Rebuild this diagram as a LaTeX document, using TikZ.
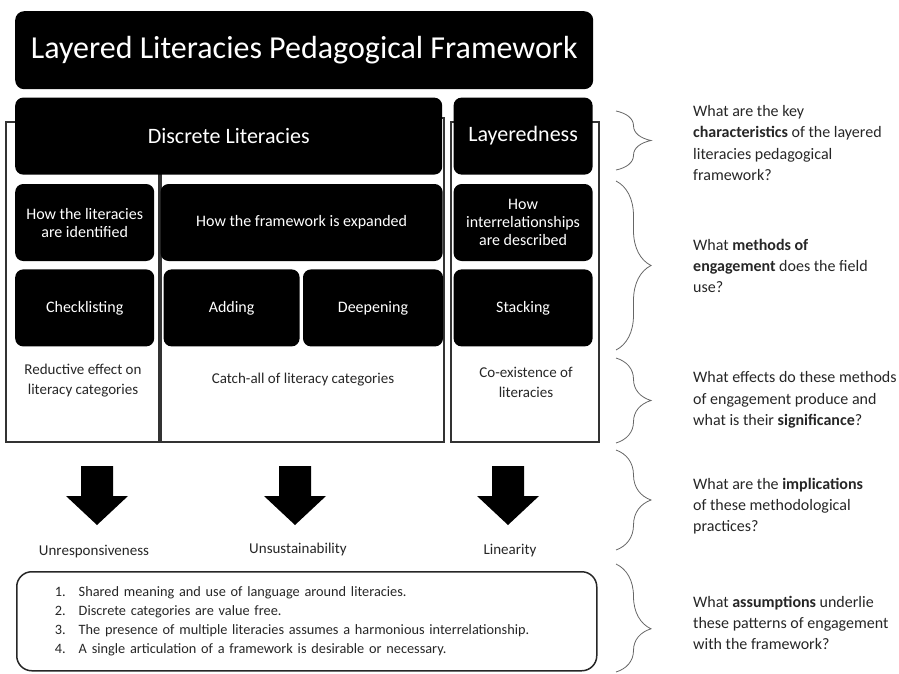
\documentclass[tikz,border=0pt]{standalone}
\usepackage{fontspec}
\setmainfont{Carlito}
\usetikzlibrary{positioning, decorations.pathreplacing}

\begin{document}
\begin{tikzpicture}[
    x=1pt, y=-1pt,
    dark_block/.style={rectangle, fill=black, text=white, rounded corners=8pt, inner sep=0pt, align=center, minimum height=77pt, font=\fontsize{16}{18}\selectfont},
    head_block/.style={dark_block, rounded corners=9pt, minimum height=78pt, font=\fontsize{32}{38}\selectfont},
    big_block/.style={dark_block, font=\fontsize{22}{26}\selectfont},
    col_frame/.style={draw=black!80, line width=1.5pt},
    effect_text/.style={align=center, text=black!85, font=\fontsize{15}{20}\selectfont},
    result_text/.style={text=black!85, font=\fontsize{15}{18}\selectfont},
    question_text/.style={anchor=west, align=left, inner sep=0pt, text=black!85, font=\fontsize{16}{21.3}\selectfont},
    q_brace/.style={decorate, decoration={brace, amplitude=35pt}, draw=black!60, line width=0.8pt},
    list_block/.style={rectangle, draw=black!85, line width=1.5pt, rounded corners=15pt, minimum width=580pt, minimum height=99pt, inner xsep=38pt, text width=504pt, align=left, text=black!85, font=\fontsize{14.3}{18.7}\selectfont}
]
    \useasboundingbox (0,0) rectangle (899,673);

    % Column frames
    \draw[col_frame] (6,122) rectangle (159,442);
    \draw[col_frame] (161,118) rectangle (444,442);
    \draw[col_frame] (451,122) rectangle (599,442);

    % Framework blocks
    \node[head_block, minimum width=578pt, anchor=north west] (title) at (15,11) {Layered Literacies Pedagogical Framework};
    \node[big_block, minimum width=427pt, below right=8pt and 0pt of title.south west] (discrete) {Discrete Literacies};
    \node[big_block, minimum width=139pt, right=11pt of discrete] (layered) {Layeredness};

    \node[dark_block, minimum width=139pt, below right=9pt and 0pt of discrete.south west] (identified) {How the literacies\\are identified};
    \node[dark_block, minimum width=282pt, right=6pt of identified] (expanded) {How the framework is expanded};
    \node[dark_block, minimum width=139pt, below=9pt of layered] (described) {How\\interrelationships\\are described};

    \node[dark_block, minimum width=139pt, below=8pt of identified] (checklist) {Checklisting};
    \node[dark_block, minimum width=136pt, right=9pt of checklist] (adding) {Adding};
    \node[dark_block, minimum width=140pt, right=3pt of adding] (deepening) {Deepening};
    \node[dark_block, minimum width=139pt, below=8pt of described] (stacking) {Stacking};

    % Effects
    \node[effect_text] (reductive) at (83,381) {Reductive effect on\\literacy categories};
    \node[effect_text] (catchall) at (303,380) {Catch-all of literacy categories};
    \node[effect_text] (coexist) at (526,382) {Co-existence of\\literacies};

    % Implications
    \foreach \ax in {97, 295, 508}
        \fill[black] (\ax-16,466) -- (\ax+16,466) -- (\ax+16,496) -- (\ax+31,496) -- (\ax,525) -- (\ax-31,496) -- (\ax-16,496) -- cycle;
    \node[result_text] (unresp) at (94,552) {Unresponsiveness};
    \node[result_text] (unsust) at (298,549) {Unsustainability};
    \node[result_text] (linear) at (510,551) {Linearity};

    % Assumptions
    \node[list_block, anchor=north west] (assumptions) at (16,571) {%
        \makebox[24pt][l]{1.}Shared meaning and use of language around literacies.\\
        \makebox[24pt][l]{2.}Discrete categories are value free.\\
        \makebox[24pt][l]{3.}The presence of multiple literacies assumes a harmonious interrelationship.\\
        \makebox[24pt][l]{4.}A single articulation of a framework is desirable or necessary.};

    % Questions
    \draw[q_brace] (616,111) -- (616,170);
    \draw[q_brace] (616,181) -- (616,350);
    \draw[q_brace] (616,358) -- (616,443);
    \draw[q_brace] (616,450) -- (616,550);
    \draw[q_brace, decoration={aspect=0.6}] (616,564) -- (616,672);

    \node[question_text] (q_char) at (693,143) {What are the key\\\textbf{characteristics} of the layered\\literacies pedagogical\\framework?};
    \node[question_text] (q_method) at (693,266) {What \textbf{methods of}\\\textbf{engagement} does the field\\use?};
    \node[question_text] (q_effect) at (693,400) {What effects do these methods\\of engagement produce and\\what is their \textbf{significance}?};
    \node[question_text] (q_impl) at (693,506) {What are the \textbf{implications}\\of these methodological\\practices?};
    \node[question_text] (q_assume) at (693,623) {What \textbf{assumptions} underlie\\these patterns of engagement\\with the framework?};

\end{tikzpicture}
\end{document}
